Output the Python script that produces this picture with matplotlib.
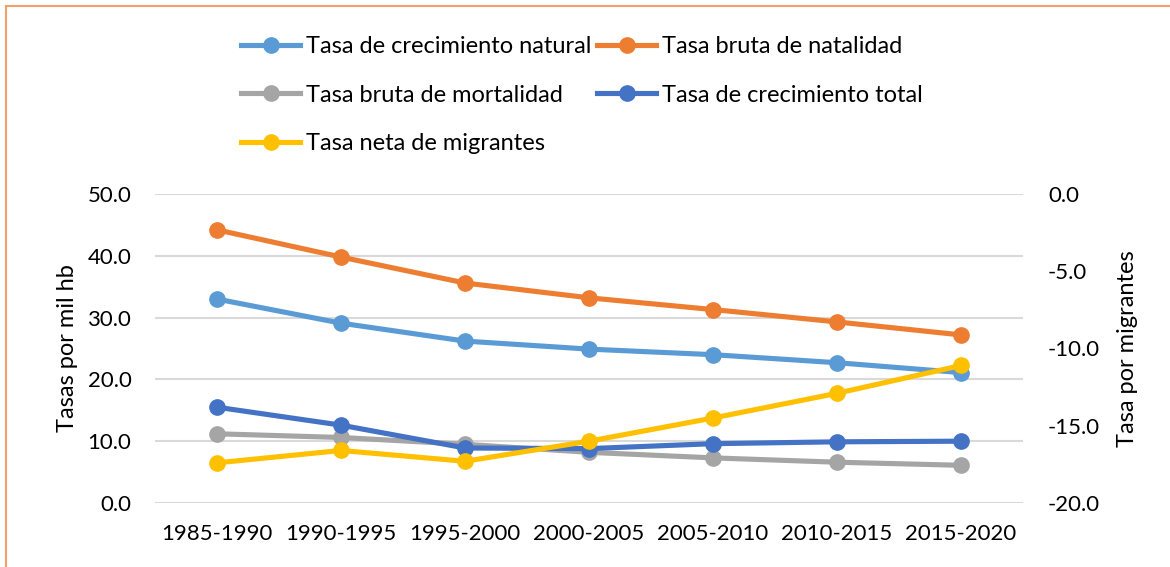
import matplotlib.pyplot as plt
from matplotlib.lines import Line2D

plt.rcParams['font.family'] = ['Lato', 'DejaVu Sans']

periodos = ['1985-1990', '1990-1995', '1995-2000', '2000-2005',
            '2005-2010', '2010-2015', '2015-2020']
crec_natural = [33.0, 29.1, 26.2, 24.9, 24.0, 22.7, 21.1]
natalidad = [44.2, 39.8, 35.6, 33.2, 31.3, 29.3, 27.2]
mortalidad = [11.2, 10.6, 9.5, 8.2, 7.3, 6.6, 6.1]
crec_total = [15.5, 12.6, 8.9, 8.8, 9.6, 9.9, 10.0]
migrantes = [-17.4, -16.6, -17.3, -16.0, -14.5, -12.9, -11.1]

c_natural = '#5B9BD5'
c_natal = '#ED7D31'
c_mort = '#A5A5A5'
c_total = '#4472C4'
c_migr = '#FFC000'

fig = plt.figure(figsize=(11.7, 5.67), dpi=100)
ax = fig.add_axes([155 / 1170, 1 - 503 / 567, 868 / 1170, 309 / 567])
ax2 = ax.twinx()

x = range(len(periodos))
kw = dict(lw=3.7, marker='o', ms=11, solid_capstyle='round')
ax.plot(x, crec_natural, color=c_natural, **kw)
ax.plot(x, natalidad, color=c_natal, **kw)
ax.plot(x, mortalidad, color=c_mort, **kw)
ax.plot(x, crec_total, color=c_total, **kw)
ax2.plot(x, migrantes, color=c_migr, **kw)

ax.set_xlim(-0.5, len(periodos) - 0.5)
ax.set_ylim(0, 50)
ax2.set_ylim(-20, 0)
ax.set_yticks([0, 10, 20, 30, 40, 50])
ax.set_yticklabels([f'{v:.1f}' for v in [0, 10, 20, 30, 40, 50]])
ax2.set_yticks([-20, -15, -10, -5, 0])
ax2.set_yticklabels([f'{v:.1f}' for v in [-20, -15, -10, -5, 0]])
ax.set_xticks(list(x))
ax.set_xticklabels(periodos)

ax.grid(axis='y', color='#D9D9D9', lw=1.5)
ax.set_axisbelow(True)
for a in (ax, ax2):
    for s in a.spines.values():
        s.set_visible(False)
    a.tick_params(length=0, labelsize=16, colors='#000000')
ax.tick_params(axis='y', pad=17)
ax.tick_params(axis='x', pad=15)
ax2.tick_params(axis='y', pad=18)

ax.set_ylabel('Tasas por mil hb', fontsize=17, labelpad=7)
ax2.set_ylabel('Tasa por migrantes', fontsize=17, labelpad=12)

def h(c):
    return Line2D([], [], color=c, lw=3.7, marker='o', ms=11)

handles = [h(c_natural), h(c_mort), h(c_migr), h(c_natal), h(c_total)]
labels = ['Tasa de crecimiento natural', 'Tasa bruta de mortalidad',
          'Tasa neta de migrantes', 'Tasa bruta de natalidad',
          'Tasa de crecimiento total']
fig.legend(handles, labels, ncol=2, loc='upper left',
           bbox_to_anchor=(241 / 1170, 1 - 36 / 567), frameon=False,
           fontsize=17, handlelength=2.5, handletextpad=0.25,
           columnspacing=0.25, labelspacing=1.17, borderaxespad=0,
           borderpad=0)

# orange frame (top and left visible)
fig.add_artist(Line2D([6 / 1170, 1.0], [1 - 6 / 567, 1 - 6 / 567],
                      transform=fig.transFigure, color='#F4A06A', lw=1.5))
fig.add_artist(Line2D([6 / 1170, 6 / 1170], [0, 1 - 6 / 567],
                      transform=fig.transFigure, color='#F4A06A', lw=1.5))

fig.savefig('out.png', dpi=100)
